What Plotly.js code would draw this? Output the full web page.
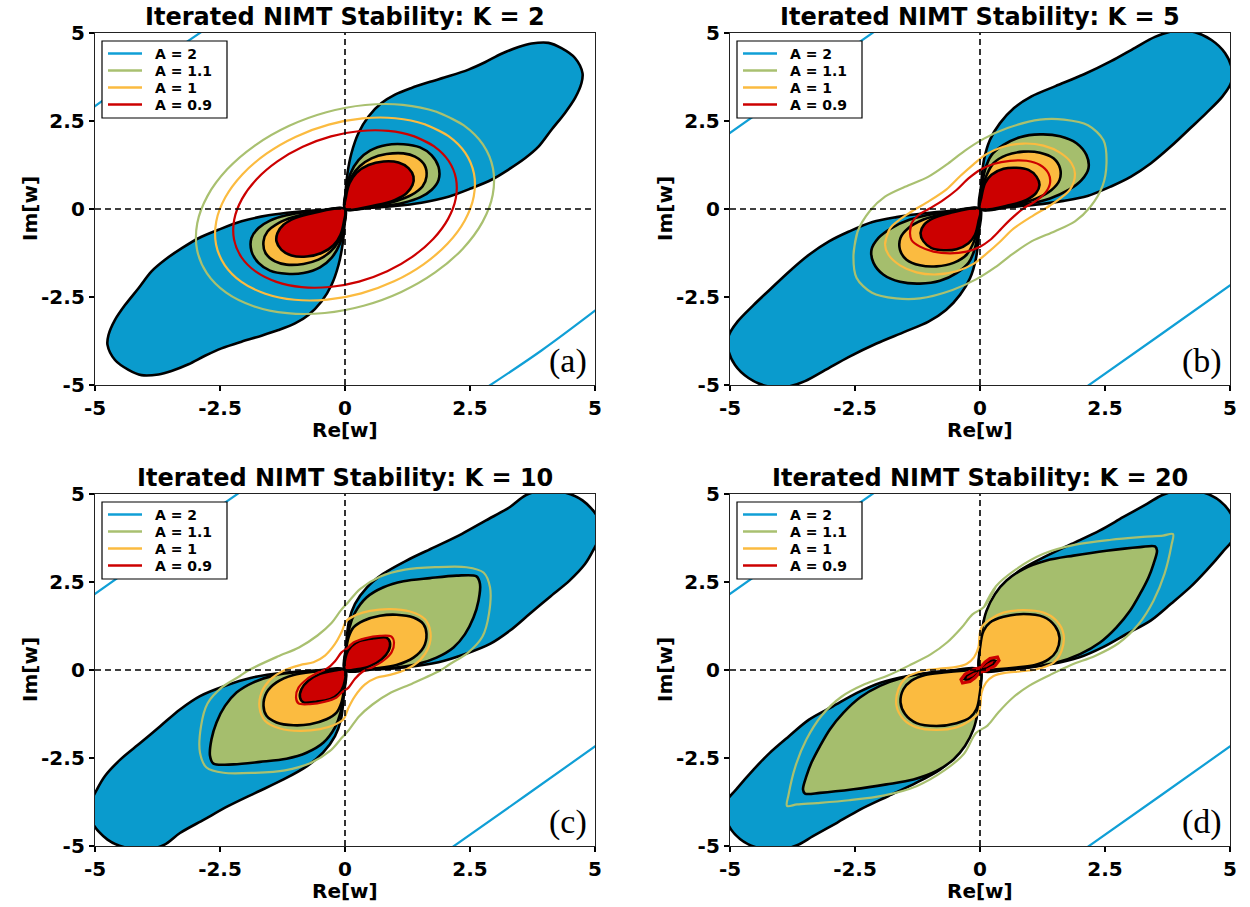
<!DOCTYPE html>
<html><head><meta charset="utf-8">
<script src="https://cdn.plot.ly/plotly-3.0.1.min.js"></script>
<style>html,body{margin:0;padding:0;background:#fff}#chart{width:1250px;height:907px}</style>
</head><body><div id="chart"></div>
<script>
// ---------------- DATA ----------------
const TITLES = ['Iterated NIMT Stability: K = 2','Iterated NIMT Stability: K = 5','Iterated NIMT Stability: K = 10','Iterated NIMT Stability: K = 20'];
const PANEL_LABELS = ['(a)','(b)','(c)','(d)'];
const LEGEND_LABELS = ['A = 2','A = 1.1','A = 1','A = 0.9'];
const TICK_VALS = [-5,-2.5,0,2.5,5];
const TICK_TEXT = ['-5','-2.5','0','2.5','5'];

// Panel (a), K = 2
const A_BLUE_1 = [[0,0],[0.01,0.46],[0.05,1.02],[0.13,1.59],[0.27,2.16],[0.47,2.63],[0.73,3.01],[1.0,3.25],[1.33,3.44],[1.67,3.6],[2.07,3.77],[2.47,3.96],[2.8,4.17],[3.13,4.41],[3.47,4.6],[3.73,4.7],[4.07,4.72],[4.33,4.57],[4.6,4.29],[4.75,3.86],[4.73,3.58],[4.6,3.15],[4.4,2.73],[4.13,2.25],[3.87,1.77],[3.6,1.44],[3.27,1.12],[2.93,0.83],[2.53,0.59],[2.07,0.35],[1.53,0.18],[1.0,0.085],[0.47,0.03],[0,0]];
const A_BLUE_2 = [[0,0],[-0.01,-0.46],[-0.05,-1.02],[-0.13,-1.59],[-0.27,-2.16],[-0.47,-2.63],[-0.73,-3.01],[-1.0,-3.25],[-1.33,-3.44],[-1.67,-3.6],[-2.07,-3.77],[-2.47,-3.96],[-2.8,-4.17],[-3.13,-4.41],[-3.47,-4.6],[-3.73,-4.7],[-4.07,-4.72],[-4.33,-4.57],[-4.6,-4.29],[-4.75,-3.86],[-4.73,-3.58],[-4.6,-3.15],[-4.4,-2.73],[-4.13,-2.25],[-3.87,-1.77],[-3.6,-1.44],[-3.27,-1.12],[-2.93,-0.83],[-2.53,-0.59],[-2.07,-0.35],[-1.53,-0.18],[-1.0,-0.085],[-0.47,-0.03],[0,0]];
const A_GREEN_1 = [[0,0],[0.03,0.54],[0.11,1.01],[0.27,1.39],[0.5,1.66],[0.83,1.82],[1.17,1.84],[1.5,1.75],[1.73,1.53],[1.87,1.2],[1.87,0.82],[1.73,0.54],[1.5,0.33],[1.17,0.18],[0.77,0.085],[0.37,0.04],[0,0]];
const A_GREEN_2 = [[0,0],[-0.03,-0.54],[-0.11,-1.01],[-0.27,-1.39],[-0.5,-1.66],[-0.83,-1.82],[-1.17,-1.84],[-1.5,-1.75],[-1.73,-1.53],[-1.87,-1.2],[-1.87,-0.82],[-1.73,-0.54],[-1.5,-0.33],[-1.17,-0.18],[-0.77,-0.085],[-0.37,-0.04],[0,0]];
const A_ORANGE_1 = [[0,0],[0.03,0.45],[0.13,0.92],[0.3,1.22],[0.53,1.44],[0.83,1.56],[1.17,1.58],[1.4,1.49],[1.59,1.25],[1.63,0.92],[1.55,0.64],[1.33,0.4],[1.03,0.23],[0.63,0.095],[0,0]];
const A_ORANGE_2 = [[0,0],[-0.03,-0.45],[-0.13,-0.92],[-0.3,-1.22],[-0.53,-1.44],[-0.83,-1.56],[-1.17,-1.58],[-1.4,-1.49],[-1.59,-1.25],[-1.63,-0.92],[-1.55,-0.64],[-1.33,-0.4],[-1.03,-0.23],[-0.63,-0.095],[0,0]];
const A_RED_1 = [[0,0],[0.02,0.35],[0.09,0.73],[0.23,1.03],[0.47,1.25],[0.77,1.35],[1.07,1.32],[1.27,1.16],[1.37,0.92],[1.35,0.68],[1.23,0.45],[1.0,0.26],[0.63,0.11],[0,0]];
const A_RED_2 = [[0,0],[-0.02,-0.35],[-0.09,-0.73],[-0.23,-1.03],[-0.47,-1.25],[-0.77,-1.35],[-1.07,-1.32],[-1.27,-1.16],[-1.37,-0.92],[-1.35,-0.68],[-1.23,-0.45],[-1.0,-0.26],[-0.63,-0.11],[0,0]];
const A_LINE_BLUE_UL = [[-5.1,2.82],[-3.95,3.98],[-2.8,5.1]];
const A_LINE_BLUE_LR = [[2.8,-5.1],[3.93,-4.02],[5.1,-2.78]];
const A_LINE_GREEN = [[2.376,2.376],[1.828,2.761],[1.156,2.959],[0.405,2.955],[-0.373,2.749],[-1.126,2.357],[-1.803,1.803],[-2.357,1.126],[-2.749,0.373],[-2.955,-0.405],[-2.959,-1.156],[-2.761,-1.828],[-2.376,-2.376],[-1.828,-2.761],[-1.156,-2.959],[-0.405,-2.955],[0.373,-2.749],[1.126,-2.357],[1.803,-1.803],[2.357,-1.126],[2.749,-0.373],[2.955,0.405],[2.959,1.156],[2.761,1.828],[2.376,2.376],[1.828,2.761]];
const A_LINE_ORANGE = [[2.071,2.071],[1.593,2.406],[1.007,2.579],[0.353,2.575],[-0.325,2.396],[-0.981,2.054],[-1.571,1.571],[-2.054,0.981],[-2.396,0.325],[-2.575,-0.353],[-2.579,-1.007],[-2.406,-1.593],[-2.071,-2.071],[-1.593,-2.406],[-1.007,-2.579],[-0.353,-2.575],[0.325,-2.396],[0.981,-2.054],[1.571,-1.571],[2.054,-0.981],[2.396,-0.325],[2.575,0.353],[2.579,1.007],[2.406,1.593],[2.071,2.071],[1.593,2.406]];
const A_LINE_RED = [[1.782,1.782],[1.371,2.071],[0.867,2.219],[0.304,2.216],[-0.28,2.062],[-0.845,1.768],[-1.352,1.352],[-1.768,0.845],[-2.062,0.28],[-2.216,-0.304],[-2.219,-0.867],[-2.071,-1.371],[-1.782,-1.782],[-1.371,-2.071],[-0.867,-2.219],[-0.304,-2.216],[0.28,-2.062],[0.845,-1.768],[1.352,-1.352],[1.768,-0.845],[2.062,-0.28],[2.216,0.304],[2.219,0.867],[2.071,1.371],[1.782,1.782],[1.371,2.071]];

// Panel (b), K = 5
const B_BLUE_1 = [[0,0],[0.02,0.64],[0.08,1.4],[0.2,1.97],[0.4,2.44],[0.68,2.87],[1.03,3.2],[1.51,3.49],[2.07,3.82],[2.62,4.2],[3.1,4.58],[3.5,4.89],[3.9,5.06],[4.3,5.02],[4.63,4.8],[4.9,4.43],[5.04,3.96],[5.02,3.58],[4.85,3.2],[4.53,2.73],[4.21,2.3],[3.82,1.78],[3.42,1.3],[3.02,0.92],[2.62,0.64],[2.15,0.37],[1.67,0.23],[1.11,0.12],[0.56,0.05],[0,0]];
const B_BLUE_2 = [[0,0],[-0.02,-0.64],[-0.08,-1.4],[-0.2,-1.97],[-0.4,-2.44],[-0.68,-2.87],[-1.03,-3.2],[-1.51,-3.49],[-2.07,-3.82],[-2.62,-4.2],[-3.1,-4.58],[-3.5,-4.89],[-3.9,-5.06],[-4.3,-5.02],[-4.63,-4.8],[-4.9,-4.43],[-5.04,-3.96],[-5.02,-3.58],[-4.85,-3.2],[-4.53,-2.73],[-4.21,-2.3],[-3.82,-1.78],[-3.42,-1.3],[-3.02,-0.92],[-2.62,-0.64],[-2.15,-0.37],[-1.67,-0.23],[-1.11,-0.12],[-0.56,-0.05],[0,0]];
const B_GREEN_1 = [[0,0],[0.03,0.54],[0.1,1.11],[0.23,1.53],[0.47,1.82],[0.8,2.04],[1.2,2.12],[1.6,2.07],[1.93,1.87],[2.13,1.53],[2.17,1.16],[2.03,0.82],[1.77,0.54],[1.4,0.3],[0.93,0.14],[0.47,0.066],[0,0]];
const B_GREEN_2 = [[0,0],[-0.03,-0.54],[-0.1,-1.11],[-0.23,-1.53],[-0.47,-1.82],[-0.8,-2.04],[-1.2,-2.12],[-1.6,-2.07],[-1.93,-1.87],[-2.13,-1.53],[-2.17,-1.16],[-2.03,-0.82],[-1.77,-0.54],[-1.4,-0.3],[-0.93,-0.14],[-0.47,-0.066],[0,0]];
const B_ORANGE_1 = [[0,0],[0.03,0.45],[0.12,0.92],[0.27,1.3],[0.53,1.53],[0.87,1.63],[1.2,1.6],[1.47,1.44],[1.6,1.16],[1.59,0.82],[1.43,0.54],[1.13,0.3],[0.73,0.14],[0,0]];
const B_ORANGE_2 = [[0,0],[-0.03,-0.45],[-0.12,-0.92],[-0.27,-1.3],[-0.53,-1.53],[-0.87,-1.63],[-1.2,-1.6],[-1.47,-1.44],[-1.6,-1.16],[-1.59,-0.82],[-1.43,-0.54],[-1.13,-0.3],[-0.73,-0.14],[0,0]];
const B_RED_1 = [[0,0],[0.03,0.35],[0.1,0.73],[0.23,0.97],[0.47,1.14],[0.73,1.17],[0.97,1.11],[1.13,0.92],[1.19,0.68],[1.12,0.45],[0.93,0.26],[0.6,0.11],[0,0]];
const B_RED_2 = [[0,0],[-0.03,-0.35],[-0.1,-0.73],[-0.23,-0.97],[-0.47,-1.14],[-0.73,-1.17],[-0.97,-1.11],[-1.13,-0.92],[-1.19,-0.68],[-1.12,-0.45],[-0.93,-0.26],[-0.6,-0.11],[0,0]];
const B_LINE_BLUE_UL = [[-5.1,2.06],[-3.6,3.57],[-2.05,5.1]];
const B_LINE_BLUE_LR = [[2.08,-5.1],[3.6,-3.58],[5.1,-2.07]];
const B_LINE_GREEN = [[-2.53,-1.3],[-2.45,-0.65],[-2.2,-0.05],[-1.9,0.35],[-1.5,0.63],[-1.03,0.92],[-0.64,1.29],[-0.3,1.66],[0.08,2.0],[0.55,2.3],[1.2,2.54],[1.68,2.54],[2.16,2.38],[2.47,1.95],[2.53,1.3],[2.45,0.65],[2.2,0.05],[1.9,-0.35],[1.5,-0.63],[1.03,-0.92],[0.64,-1.29],[0.3,-1.66],[-0.08,-2.0],[-0.55,-2.3],[-1.2,-2.54],[-1.68,-2.54],[-2.16,-2.38],[-2.47,-1.95],[-2.53,-1.3],[-2.45,-0.65]];
const B_LINE_ORANGE = [[-1.9,-1.0],[-1.8,-0.55],[-1.4,-0.1],[-1.07,0.18],[-0.67,0.56],[-0.4,0.93],[-0.13,1.27],[0.13,1.56],[0.47,1.77],[0.87,1.86],[1.27,1.8],[1.6,1.6],[1.83,1.3],[1.9,1.0],[1.8,0.55],[1.4,0.1],[1.07,-0.18],[0.67,-0.56],[0.4,-0.93],[0.13,-1.27],[-0.13,-1.56],[-0.47,-1.77],[-0.87,-1.86],[-1.27,-1.8],[-1.6,-1.6],[-1.83,-1.3],[-1.9,-1.0],[-1.8,-0.55]];
const B_LINE_RED = [[-1.4,-0.69],[-1.37,-0.41],[-1.23,-0.17],[-1.0,0.02],[-0.73,0.26],[-0.47,0.54],[-0.23,0.87],[0,1.11],[0.27,1.28],[0.6,1.37],[0.93,1.37],[1.2,1.25],[1.37,1.01],[1.4,0.73],[1.3,0.45],[1.1,0.21],[0.87,0.02],[0.6,-0.31],[0.4,-0.6],[0.2,-0.88],[0,-1.07],[-0.27,-1.21],[-0.6,-1.26],[-0.93,-1.21],[-1.2,-1.07],[-1.37,-0.88],[-1.4,-0.69],[-1.37,-0.41]];

// Panel (c), K = 10
const C_BLUE_1 = [[0,0],[0.02,0.65],[0.08,1.4],[0.2,1.88],[0.44,2.35],[0.76,2.73],[1.23,3.11],[1.79,3.49],[2.34,3.87],[2.82,4.25],[3.3,4.63],[3.62,4.97],[3.97,5.1],[4.4,5.04],[4.75,4.82],[5.05,4.34],[5.08,3.77],[4.96,3.39],[4.8,3.01],[4.49,2.54],[4.09,2.07],[3.69,1.59],[3.3,1.12],[2.9,0.74],[2.42,0.46],[1.87,0.22],[1.23,0.08],[0.6,0.02],[0,0]];
const C_BLUE_2 = [[0,0],[-0.02,-0.65],[-0.08,-1.4],[-0.2,-1.88],[-0.44,-2.35],[-0.76,-2.73],[-1.23,-3.11],[-1.79,-3.49],[-2.34,-3.87],[-2.82,-4.25],[-3.3,-4.63],[-3.62,-4.97],[-3.97,-5.1],[-4.4,-5.04],[-4.75,-4.82],[-5.05,-4.34],[-5.08,-3.77],[-4.96,-3.39],[-4.8,-3.01],[-4.49,-2.54],[-4.09,-2.07],[-3.69,-1.59],[-3.3,-1.12],[-2.9,-0.74],[-2.42,-0.46],[-1.87,-0.22],[-1.23,-0.08],[-0.6,-0.02],[0,0]];
const C_GREEN_1 = [[0,0],[0.03,0.64],[0.09,1.21],[0.2,1.63],[0.43,2.06],[0.77,2.35],[1.17,2.52],[1.7,2.61],[2.23,2.68],[2.63,2.66],[2.7,2.44],[2.67,1.97],[2.57,1.49],[2.4,1.02],[2.17,0.64],[1.83,0.35],[1.43,0.16],[0.9,0.05],[0.43,0.01],[0,0]];
const C_GREEN_2 = [[0,0],[-0.03,-0.64],[-0.09,-1.21],[-0.2,-1.63],[-0.43,-2.06],[-0.77,-2.35],[-1.17,-2.52],[-1.7,-2.61],[-2.23,-2.68],[-2.63,-2.66],[-2.7,-2.44],[-2.67,-1.97],[-2.57,-1.49],[-2.4,-1.02],[-2.17,-0.64],[-1.83,-0.35],[-1.43,-0.16],[-0.9,-0.05],[-0.43,-0.01],[0,0]];
const C_ORANGE_1 = [[0,0],[0.02,0.54],[0.07,0.92],[0.17,1.21],[0.37,1.4],[0.7,1.54],[1.03,1.57],[1.37,1.49],[1.57,1.3],[1.63,1.02],[1.57,0.64],[1.37,0.35],[1.03,0.14],[0.63,0.05],[0.23,0.01],[0,0]];
const C_ORANGE_2 = [[0,0],[-0.02,-0.54],[-0.07,-0.92],[-0.17,-1.21],[-0.37,-1.4],[-0.7,-1.54],[-1.03,-1.57],[-1.37,-1.49],[-1.57,-1.3],[-1.63,-1.02],[-1.57,-0.64],[-1.37,-0.35],[-1.03,-0.14],[-0.63,-0.05],[-0.23,-0.01],[0,0]];
const C_RED_1 = [[0,0],[0.03,0.45],[0.13,0.68],[0.3,0.83],[0.57,0.9],[0.83,0.92],[0.9,0.78],[0.87,0.54],[0.73,0.3],[0.5,0.11],[0.23,0.02],[0,0]];
const C_RED_2 = [[0,0],[-0.03,-0.45],[-0.13,-0.68],[-0.3,-0.83],[-0.57,-0.9],[-0.83,-0.92],[-0.9,-0.78],[-0.87,-0.54],[-0.73,-0.3],[-0.5,-0.11],[-0.23,-0.02],[0,0]];
const C_LINE_BLUE_UL = [[-5.1,2.06],[-3.6,3.57],[-2.05,5.1]];
const C_LINE_BLUE_LR = [[2.08,-5.1],[3.6,-3.58],[5.1,-2.07]];
const C_LINE_GREEN = [[-1.92,0.0],[-1.35,0.38],[-0.92,0.64],[-0.55,0.98],[-0.28,1.32],[-0.08,1.7],[0.06,1.92],[0.3,2.3],[0.7,2.65],[1.2,2.85],[1.8,2.92],[2.43,2.92],[2.77,2.77],[2.9,2.35],[2.88,1.6],[2.75,0.95],[2.45,0.48],[2.1,0.17],[1.92,0.0],[1.35,-0.38],[0.92,-0.64],[0.55,-0.98],[0.28,-1.32],[0.08,-1.7],[-0.06,-1.92],[-0.3,-2.3],[-0.7,-2.65],[-1.2,-2.85],[-1.8,-2.92],[-2.43,-2.92],[-2.77,-2.77],[-2.9,-2.35],[-2.88,-1.6],[-2.75,-0.95],[-2.45,-0.48],[-2.1,-0.17],[-1.92,0.0],[-1.35,0.38]];
const C_LINE_ORANGE = [[0.03,1.4],[0.23,1.57],[0.5,1.68],[0.9,1.73],[1.3,1.66],[1.6,1.44],[1.71,1.06],[1.67,0.64],[1.5,0.28],[1.23,0.02],[0.9,-0.14],[0.63,-0.22],[0.4,-0.41],[0.2,-0.74],[0.07,-1.07],[-0.03,-1.4],[-0.23,-1.57],[-0.5,-1.68],[-0.9,-1.73],[-1.3,-1.66],[-1.6,-1.44],[-1.71,-1.06],[-1.67,-0.64],[-1.5,-0.28],[-1.23,-0.02],[-0.9,0.14],[-0.63,0.22],[-0.4,0.41],[-0.2,0.74],[-0.07,1.07],[0.03,1.4],[0.23,1.57]];
const C_LINE_RED = [[0.05,0.62],[0.17,0.78],[0.4,0.9],[0.7,0.97],[0.93,0.95],[0.98,0.77],[0.93,0.5],[0.77,0.27],[0.55,0.08],[0.35,-0.05],[0.2,-0.25],[0.07,-0.5],[-0.05,-0.62],[-0.17,-0.78],[-0.4,-0.9],[-0.7,-0.97],[-0.93,-0.95],[-0.98,-0.77],[-0.93,-0.5],[-0.77,-0.27],[-0.55,-0.08],[-0.35,0.05],[-0.2,0.25],[-0.07,0.5],[0.05,0.62],[0.17,0.78]];

// Panel (d), K = 20
const D_BLUE_1 = [[0,0],[0.02,0.65],[0.08,1.4],[0.24,1.97],[0.5,2.45],[0.8,2.83],[1.27,3.2],[1.83,3.58],[2.39,3.96],[2.86,4.34],[3.34,4.72],[3.66,4.98],[4.0,5.1],[4.45,5.05],[4.8,4.8],[5.05,4.34],[5.08,3.77],[4.85,3.35],[4.53,2.83],[4.21,2.36],[3.82,1.88],[3.42,1.41],[2.94,1.03],[2.46,0.65],[1.99,0.36],[1.43,0.17],[0.79,0.06],[0,0]];
const D_BLUE_2 = [[0,0],[-0.02,-0.65],[-0.08,-1.4],[-0.24,-1.97],[-0.5,-2.45],[-0.8,-2.83],[-1.27,-3.2],[-1.83,-3.58],[-2.39,-3.96],[-2.86,-4.34],[-3.34,-4.72],[-3.66,-4.98],[-4.0,-5.1],[-4.45,-5.05],[-4.8,-4.8],[-5.05,-4.34],[-5.08,-3.77],[-4.85,-3.35],[-4.53,-2.83],[-4.21,-2.36],[-3.82,-1.88],[-3.42,-1.41],[-2.94,-1.03],[-2.46,-0.65],[-1.99,-0.36],[-1.43,-0.17],[-0.79,-0.06],[0,0]];
const D_GREEN_1 = [[0,0],[0.01,0.54],[0.05,1.21],[0.13,1.68],[0.3,2.16],[0.53,2.54],[0.87,2.87],[1.33,3.11],[1.87,3.25],[2.53,3.39],[3.2,3.49],[3.5,3.51],[3.54,3.39],[3.47,3.01],[3.37,2.63],[3.2,2.16],[3.0,1.68],[2.73,1.21],[2.4,0.78],[2.0,0.45],[1.53,0.21],[1.0,0.07],[0.47,0.01],[0,0]];
const D_GREEN_2 = [[0,0],[-0.01,-0.54],[-0.05,-1.21],[-0.13,-1.68],[-0.3,-2.16],[-0.53,-2.54],[-0.87,-2.87],[-1.33,-3.11],[-1.87,-3.25],[-2.53,-3.39],[-3.2,-3.49],[-3.5,-3.51],[-3.54,-3.39],[-3.47,-3.01],[-3.37,-2.63],[-3.2,-2.16],[-3.0,-1.68],[-2.73,-1.21],[-2.4,-0.78],[-2.0,-0.45],[-1.53,-0.21],[-1.0,-0.07],[-0.47,-0.01],[0,0]];
const D_ORANGE_1 = [[0,0],[0.01,0.73],[0.07,1.11],[0.2,1.35],[0.47,1.51],[0.87,1.59],[1.27,1.51],[1.5,1.25],[1.59,0.92],[1.53,0.54],[1.37,0.3],[1.1,0.14],[0.73,0.07],[0.33,0.02],[0,0]];
const D_ORANGE_2 = [[0,0],[-0.01,-0.73],[-0.07,-1.11],[-0.2,-1.35],[-0.47,-1.51],[-0.87,-1.59],[-1.27,-1.51],[-1.5,-1.25],[-1.59,-0.92],[-1.53,-0.54],[-1.37,-0.3],[-1.1,-0.14],[-0.73,-0.07],[-0.33,-0.02],[0,0]];
const D_RED_1 = [[0,0],[0.04,0.1],[0.13,0.21],[0.25,0.29],[0.31,0.26],[0.27,0.15],[0.15,0.05],[0,0]];
const D_RED_2 = [[0,0],[-0.04,-0.1],[-0.13,-0.21],[-0.25,-0.29],[-0.31,-0.26],[-0.27,-0.15],[-0.15,-0.05],[0,0]];
const D_LINE_BLUE_UL = [[-5.1,2.06],[-3.6,3.57],[-2.05,5.1]];
const D_LINE_BLUE_LR = [[2.08,-5.1],[3.6,-3.58],[5.1,-2.07]];
const D_LINE_GREEN = [[0.08,1.79],[0.32,2.38],[0.72,2.86],[1.27,3.3],[1.91,3.56],[2.62,3.7],[3.26,3.78],[3.66,3.82],[3.86,3.86],[3.83,3.55],[3.69,2.73],[3.47,1.97],[3.17,1.3],[2.77,0.76],[2.3,0.4],[1.83,0.15],[1.4,-0.14],[0.98,-0.45],[0.66,-0.78],[0.37,-1.2],[0.15,-1.58],[-0.08,-1.79],[-0.32,-2.38],[-0.72,-2.86],[-1.27,-3.3],[-1.91,-3.56],[-2.62,-3.7],[-3.26,-3.78],[-3.66,-3.82],[-3.86,-3.86],[-3.83,-3.55],[-3.69,-2.73],[-3.47,-1.97],[-3.17,-1.3],[-2.77,-0.76],[-2.3,-0.4],[-1.83,-0.15],[-1.4,0.14],[-0.98,0.45],[-0.66,0.78],[-0.37,1.2],[-0.15,1.58],[0.08,1.79],[0.32,2.38]];
const D_LINE_ORANGE = [[-0.01,0.97],[0.03,1.21],[0.2,1.44],[0.47,1.63],[0.87,1.7],[1.27,1.63],[1.53,1.4],[1.67,1.02],[1.63,0.54],[1.47,0.21],[1.13,0.02],[0.8,-0.04],[0.5,-0.08],[0.27,-0.17],[0.12,-0.36],[0.03,-0.65],[0.01,-0.97],[-0.03,-1.21],[-0.2,-1.44],[-0.47,-1.63],[-0.87,-1.7],[-1.27,-1.63],[-1.53,-1.4],[-1.67,-1.02],[-1.63,-0.54],[-1.47,-0.21],[-1.13,-0.02],[-0.8,0.04],[-0.5,0.08],[-0.27,0.17],[-0.12,0.36],[-0.03,0.65],[-0.01,0.97],[0.03,1.21]];
const D_LINE_RED = [[0,0.06],[0.1,0.22],[0.2,0.33],[0.35,0.37],[0.38,0.27],[0.3,0.12],[0.12,-0.02],[0,-0.06],[-0.1,-0.22],[-0.2,-0.33],[-0.35,-0.37],[-0.38,-0.27],[-0.3,-0.12],[-0.12,0.02],[0,0.06]];

// ---------------- STYLE / LAYOUT ----------------
const FILL_COLORS = ['#0a9bcd','#a5be6d','#fbbb40','#cc0000'];
const LINE_COLORS = ['#109fd6','#a9c070','#fbbb40','#cc0000'];
const FONT = 'DejaVu Sans';
const W = 1250, H = 907;
const PANELS = [
  {px:95, py:33, fills:[[A_BLUE_1,A_BLUE_2],[A_GREEN_1,A_GREEN_2],[A_ORANGE_1,A_ORANGE_2],[A_RED_1,A_RED_2]],
   blue:[A_LINE_BLUE_UL,A_LINE_BLUE_LR], lines:[A_LINE_GREEN,A_LINE_ORANGE,A_LINE_RED], redSpline:true},
  {px:730, py:33, fills:[[B_BLUE_1,B_BLUE_2],[B_GREEN_1,B_GREEN_2],[B_ORANGE_1,B_ORANGE_2],[B_RED_1,B_RED_2]],
   blue:[B_LINE_BLUE_UL,B_LINE_BLUE_LR], lines:[B_LINE_GREEN,B_LINE_ORANGE,B_LINE_RED], redSpline:true},
  {px:95, py:494, fills:[[C_BLUE_1,C_BLUE_2],[C_GREEN_1,C_GREEN_2],[C_ORANGE_1,C_ORANGE_2],[C_RED_1,C_RED_2]],
   blue:[C_LINE_BLUE_UL,C_LINE_BLUE_LR], lines:[C_LINE_GREEN,C_LINE_ORANGE,C_LINE_RED], redSpline:true},
  {px:730, py:494, fills:[[D_BLUE_1,D_BLUE_2],[D_GREEN_1,D_GREEN_2],[D_ORANGE_1,D_ORANGE_2],[D_RED_1,D_RED_2]],
   blue:[D_LINE_BLUE_UL,D_LINE_BLUE_LR], lines:[D_LINE_GREEN,D_LINE_ORANGE,D_LINE_RED], redSpline:false}
];
const PW = 500, PH = 352;

const fx = x => x / W;
const fy = y => 1 - y / H;
const xs = pts => pts.map(p => p[0]);
const ys = pts => pts.map(p => p[1]);

const traces = [];
const layout = {
  width: W, height: H, autosize: false,
  margin: {l:0, r:0, t:0, b:0},
  paper_bgcolor: '#fff', plot_bgcolor: '#fff',
  showlegend: false,
  font: {family: FONT, color: '#000'},
  shapes: [], annotations: []
};

PANELS.forEach((P, i) => {
  const n = i + 1;
  const xa = n === 1 ? 'x' : 'x' + n;
  const ya = n === 1 ? 'y' : 'y' + n;
  const axCommon = {
    range: [-5, 5], tickvals: TICK_VALS, ticktext: TICK_TEXT,
    ticks: 'outside', ticklen: 5, tickwidth: 1.2, tickcolor: '#000',
    showline: true, mirror: true, linecolor: '#222', linewidth: 1.2,
    showgrid: false, zeroline: false, fixedrange: true,
    tickfont: {family: FONT, size: 20, weight: 'bold', color: '#000'}
  };
  layout['xaxis' + (n === 1 ? '' : n)] = Object.assign({}, axCommon, {
    domain: [fx(P.px), fx(P.px + PW)], anchor: ya
  });
  layout['yaxis' + (n === 1 ? '' : n)] = Object.assign({}, axCommon, {
    domain: [fy(P.py + PH), fy(P.py)], anchor: xa
  });

  // filled stability regions
  P.fills.forEach((pair, k) => {
    pair.forEach(pts => {
      traces.push({
        type: 'scatter', mode: 'lines', xaxis: xa, yaxis: ya,
        x: xs(pts), y: ys(pts), fill: 'toself', fillcolor: FILL_COLORS[k],
        line: {color: '#000', width: 2.6, shape: (i === 3 && k === 3) ? 'linear' : 'spline', smoothing: 0.9},
        hoverinfo: 'skip', showlegend: false
      });
    });
  });
  // A = 2 contour (blue corner lines)
  const bx = xs(P.blue[0]).concat([null], xs(P.blue[1]));
  const by = ys(P.blue[0]).concat([null], ys(P.blue[1]));
  traces.push({type:'scatter', mode:'lines', xaxis:xa, yaxis:ya, x:bx, y:by,
    line:{color: LINE_COLORS[0], width: 2.2, shape:'spline'}, hoverinfo:'skip', name: LEGEND_LABELS[0], showlegend:false});
  P.lines.forEach((pts, k) => {
    const isRedD = (k === 2 && !P.redSpline);
    traces.push({type:'scatter', mode:'lines', xaxis:xa, yaxis:ya, x:xs(pts), y:ys(pts),
      line:{color: LINE_COLORS[k + 1], width: isRedD ? 3.2 : 2.2, shape: isRedD ? 'linear' : 'spline', smoothing: 0.9},
      hoverinfo:'skip', name: LEGEND_LABELS[k + 1], showlegend:false});
  });

  // dashed zero lines
  layout.shapes.push({type:'line', xref:xa, yref:ya, x0:-5, x1:5, y0:0, y1:0, layer:'above',
    line:{color:'#000', width:1.6, dash:'6px,4px'}});
  layout.shapes.push({type:'line', xref:xa, yref:ya, x0:0, x1:0, y0:-5, y1:5, layer:'above',
    line:{color:'#000', width:1.6, dash:'6px,4px'}});

  // legend box (drawn manually, matplotlib-like)
  layout.shapes.push({type:'rect', xref:'paper', yref:'paper', layer:'above',
    x0: fx(P.px + 7), x1: fx(P.px + 132), y0: fy(P.py + 85), y1: fy(P.py + 8),
    fillcolor:'#fff', line:{color:'#000', width:1.2}});
  const rows = [20.5, 37.5, 54.5, 71.5];
  rows.forEach((ry, k) => {
    layout.shapes.push({type:'line', xref:'paper', yref:'paper', layer:'above',
      x0: fx(P.px + 13), x1: fx(P.px + 47), y0: fy(P.py + ry), y1: fy(P.py + ry),
      line:{color: LINE_COLORS[k], width: 2.6}});
    layout.annotations.push({xref:'paper', yref:'paper', x: fx(P.px + 58), y: fy(P.py + ry + 0.5),
      xanchor:'left', yanchor:'middle', showarrow:false, text: LEGEND_LABELS[k],
      font:{family: FONT, size: 14, weight:'bold', color:'#000'}});
  });

  // title
  layout.annotations.push({xref:'paper', yref:'paper', x: fx(P.px + PW / 2), y: fy(P.py - 16),
    xanchor:'center', yanchor:'middle', showarrow:false, text: TITLES[i],
    font:{family: FONT, size: 24, weight:'bold', color:'#000'}});
  // axis titles
  layout.annotations.push({xref:'paper', yref:'paper', x: fx(P.px + PW / 2), y: fy(P.py + PH + 45),
    xanchor:'center', yanchor:'middle', showarrow:false, text: 'Re[w]',
    font:{family: FONT, size: 20, weight:'bold', color:'#000'}});
  layout.annotations.push({xref:'paper', yref:'paper', x: fx(P.px - 65), y: fy(P.py + PH / 2),
    xanchor:'center', yanchor:'middle', showarrow:false, text: 'Im[w]', textangle: -90,
    font:{family: FONT, size: 20, weight:'bold', color:'#000'}});
  // panel label
  layout.annotations.push({xref:'paper', yref:'paper', x: fx(P.px + 494), y: fy(P.py + 328),
    xanchor:'right', yanchor:'middle', showarrow:false, text: PANEL_LABELS[i],
    font:{family: 'Liberation Serif', size: 34, color:'#000'}});
});

Plotly.newPlot('chart', traces, layout, {staticPlot: true, displayModeBar: false});
</script>
</body></html>
